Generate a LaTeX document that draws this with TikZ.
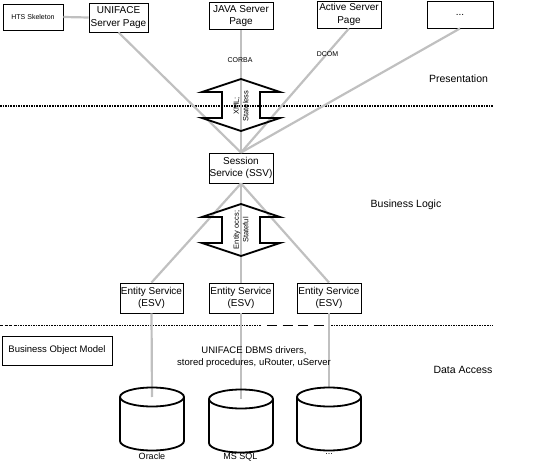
\documentclass[tikz,border=0pt]{standalone}
\usepackage{fontspec}
\setmainfont{Liberation Sans}
\definecolor{linegray}{RGB}{192,192,192}
\begin{document}
\begin{tikzpicture}[x=1pt,y=-1pt,
  box/.style={draw, line width=0.9pt, inner sep=0pt, align=center, font=\fontsize{10}{12.5}\selectfont},
  conn/.style={draw=linegray, line width=2.2pt},
  sepline/.style={line width=1.8pt, dash pattern=on 1.6pt off 1pt},
  thinsep/.style={line width=0.9pt, dash pattern=on 10pt off 5.5pt},
  smallsep/.style={line width=0.9pt, dash pattern=on 3pt off 1.5pt},
  blockarrow/.style={draw, line width=1.8pt, line join=miter},
  cyl/.style={draw, line width=1.8pt},
  lbl/.style={font=\fontsize{10.5}{12}\selectfont, inner sep=0pt},
  tinylbl/.style={font=\fontsize{7}{8}\selectfont, inner sep=0pt},
  arrowtext/.style={rotate=90, align=center, inner sep=0pt, font=\fontsize{7.5}{9.5}\selectfont},
  dblarrow/.pic={
    \path[blockarrow] (0,-26) -- (-39,-13) -- (-19,-13) -- (-19,13) -- (-39,13)
      -- (0,26) -- (39,13) -- (19,13) -- (19,-13) -- (39,-13) -- cycle;
  },
  dbcyl/.pic={
    \draw[cyl] (0,0) ellipse [x radius=32pt, y radius=9.5pt];
    \draw[cyl] (-32,0) -- (-32,44)
      .. controls (-32,49.25) and (-17.67,53.5) .. (0,53.5)
      .. controls (17.67,53.5) and (32,49.25) .. (32,44) -- (32,0);
  },
]
\useasboundingbox (0,0) rectangle (533,465);

% separators
\draw[sepline] (0,106) -- (493,106);
\draw[smallsep] (0,325.5) -- (15,325.5);
\draw[sepline] (15,325.5) -- (262,325.5);
\draw[thinsep] (267,325.5) -- (328,325.5);
\draw[sepline] (331,325.5) -- (493,325.5);

% boxes
\node[box, minimum width=60pt, minimum height=26pt, font=\fontsize{7}{8}\selectfont] (hts) at (33,17) {HTS Skeleton};
\node[box, minimum width=59pt, minimum height=29pt] (uni) at (118.5,17.5) {UNIFACE\\Server Page};
\node[box, minimum width=64pt, minimum height=27pt] (java) at (241,16) {JAVA Server\\Page};
\node[box, minimum width=64pt, minimum height=27pt] (asp) at (349,14.5) {Active Server\\Page};
\node[box, minimum width=66pt, minimum height=27pt] (more) at (460,14.5) {...};
\node[box, minimum width=64pt, minimum height=30pt] (ssv) at (241,168) {Session\\Service (SSV)};
\node[box, minimum width=63pt, minimum height=30pt] (esv1) at (151.5,298) {Entity Service\\(ESV)};
\node[box, minimum width=64pt, minimum height=30pt] (esv2) at (241,298) {Entity Service\\(ESV)};
\node[box, minimum width=64pt, minimum height=30pt] (esv3) at (329,298) {Entity Service\\(ESV)};
\node[box, minimum width=110pt, minimum height=29pt, font=\fontsize{9.5}{11}\selectfont] (bom) at (57,350.5) {Business Object Model};

% cylinder anchor points
\coordinate (c1) at (152,397);
\coordinate (c2) at (241,399);
\coordinate (c3) at (329,387.5);

% connectors
\draw[conn] (hts.east) -- (uni.west);
\draw[conn] (uni.south) -- (ssv.north);
\draw[conn] (java.south) -- (ssv.north);
\draw[conn] (asp.south) -- (ssv.north);
\draw[conn] (more.south) -- (ssv.north);
\draw[conn] (ssv.south) -- (esv1.north);
\draw[conn] (ssv.south) -- (esv2.north);
\draw[conn] (ssv.south) -- (esv3.north);
\draw[conn] (esv1.south) -- (c1);
\draw[conn] (esv2.south) -- (c2);
\draw[conn] (esv3.south) -- (c3);

% block arrows
\pic at (241,105) {dblarrow};
\pic at (241,230) {dblarrow};
\node[arrowtext] (t1) at (241,106) {XML;\\Stateless};
\node[arrowtext] (t2) at (241,230) {Entity occs;\\Stateful};

% cylinders
\pic at (152,397) {dbcyl};
\pic at (241,399) {dbcyl};
\pic at (329,397) {dbcyl};

% labels
\node[tinylbl] (corba) at (240,60) {CORBA};
\node[tinylbl] (dcom) at (327.5,54) {DCOM};
\node[lbl] (pres) at (458.5,79) {Presentation};
\node[lbl] (bl) at (406,205) {Business Logic};
\node[lbl] (da) at (463,370) {Data Access};
\node[align=center, inner sep=0pt, font=\fontsize{9.5}{11.5}\selectfont] (dbms) at (254,357) {UNIFACE DBMS drivers,\\stored procedures, uRouter, uServer};
\node[inner sep=0pt, font=\fontsize{9}{10}\selectfont] (l1) at (152,456) {Oracle};
\node[inner sep=0pt, font=\fontsize{9}{10}\selectfont] (l2) at (240.5,457) {MS SQL};
\node[inner sep=0pt, font=\fontsize{9}{10}\selectfont] (l3) at (329,454) {...};
\end{tikzpicture}
\end{document}
